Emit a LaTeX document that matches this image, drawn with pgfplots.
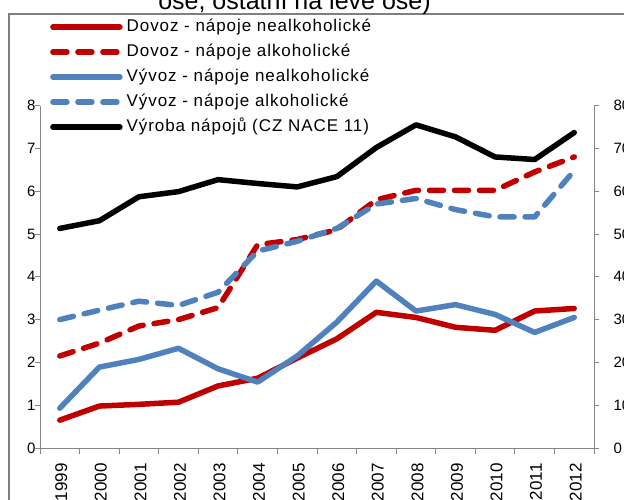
\documentclass[border=0pt]{standalone}
\usepackage{fontspec}
\setmainfont{Liberation Sans}
\usepackage{pgfplots}
\usepackage{pgfplotstable}
\pgfplotsset{compat=1.18}
\definecolor{cred}{HTML}{C00000}
\definecolor{cblue}{HTML}{4F81BD}
\definecolor{axgray}{HTML}{868686}
\definecolor{framegray}{HTML}{7F7F7F}
\newfontfamily\legfont[LetterSpace=5.5]{Liberation Sans}
\pgfplotstableread{
x dnealk dalk vnealk valk vyroba
1  0.65 2.15 0.93 3.00 51.3
2  0.98 2.45 1.89 3.22 53.1
3  1.02 2.85 2.07 3.43 58.7
4  1.07 3.00 2.33 3.33 59.9
5  1.45 3.28 1.85 3.64 62.7
6  1.63 4.75 1.54 4.60 61.8
7  2.10 4.87 2.15 4.83 61.0
8  2.55 5.10 2.94 5.13 63.4
9  3.17 5.80 3.90 5.70 70.2
10 3.05 6.02 3.20 5.83 75.5
11 2.82 6.02 3.35 5.57 72.7
12 2.75 6.02 3.12 5.40 68.0
13 3.20 6.45 2.70 5.40 67.4
14 3.26 6.80 3.05 6.48 73.7
}\data
\pgfplotsset{
  common/.style={
    at={(40pt,52pt)}, anchor=south west, scale only axis,
    width=554pt, height=342.4pt, xmin=0.5, xmax=14.5, clip=false,
    axis line style={draw=axgray, line width=0.8pt, -},
    tick align=outside, major tick length=5pt, minor tick length=6pt,
    tick style={draw=axgray, line width=0.8pt},
    /pgf/number format/assume math mode=true,
    yticklabel style={font=\fontsize{15}{18}\selectfont},
  },
  ser/.style={line width=5.5pt, line cap=round, line join=round},
  dsh/.style={ser, dash pattern=on 14pt off 11pt},
}
\begin{document}
\begin{tikzpicture}[x=1pt,y=1pt]
\useasboundingbox (0,0) rectangle (624,500);
\clip (0,0) rectangle (624,500);
\draw[color=framegray, line width=1.8pt] (9,-20) rectangle (700,486);
\node[anchor=base, font=\fontsize{25}{28}\selectfont, inner sep=0pt] at (294.5,490) {ose, ostatní na levé ose)};
\begin{axis}[common,
  ymin=0, ymax=8,
  axis x line*=bottom, axis y line*=left,
  xtick={1,...,14},
  xticklabels={1999,2000,2001,2002,2003,2004,2005,2006,2007,2008,2009,2010,2011,2012},
  minor xtick={0.5,1.5,...,14.5},
  major x tick style={draw=none},
  x tick label style={rotate=90, anchor=east, font=\fontsize{17}{20}\selectfont, xshift=-7pt, yshift=-1.5pt},
  ytick={0,1,...,8},
  yticklabel style={xshift=4pt},
]
\addplot[ser, cred] table[x=x, y=dnealk] {\data};
\addplot[dsh, cred] table[x=x, y=dalk] {\data};
\addplot[ser, cblue] table[x=x, y=vnealk] {\data};
\addplot[dsh, cblue] table[x=x, y=valk] {\data};
\end{axis}
\begin{axis}[common,
  ymin=0, ymax=80,
  axis x line=none, axis y line*=right,
  ytick={0,10,...,80},
  yticklabel style={xshift=11pt},
  legend cell align=left,
  legend image code/.code={\draw[#1] (2.5pt,0pt) -- (69.5pt,0pt);},
  legend style={draw=none, fill=none, at={(0.018,1.253)}, anchor=north west,
    font=\legfont\fontsize{17}{20}\selectfont, row sep=9pt, column sep=4pt, inner sep=0pt,
    nodes={inner sep=0pt, text height=12pt, text depth=4pt}},
]
\addlegendimage{ser, cred}
\addlegendentry{Dovoz - nápoje nealkoholické}
\addlegendimage{dsh, cred}
\addlegendentry{Dovoz - nápoje alkoholické}
\addlegendimage{ser, cblue}
\addlegendentry{Vývoz - nápoje nealkoholické}
\addlegendimage{dsh, cblue}
\addlegendentry{Vývoz - nápoje alkoholické}
\addplot[ser, black] table[x=x, y=vyroba] {\data};
\addlegendentry{Výroba nápojů (CZ NACE 11)}
\end{axis}
\end{tikzpicture}
\end{document}
